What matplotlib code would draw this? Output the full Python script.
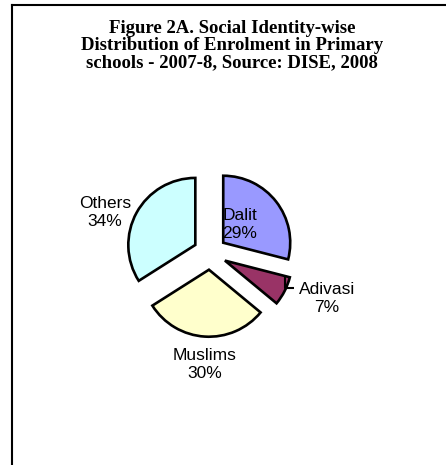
import matplotlib.pyplot as plt
from matplotlib.lines import Line2D

categories = ["Dalit", "Adivasi", "Muslims", "Others"]
shares = [29, 7, 30, 34]
colors = ["#9999FF", "#993366", "#FFFFCC", "#CCFFFF"]
title_lines = ["Figure 2A. Social Identity-wise",
               "Distribution of Enrolment in Primary",
               "schools - 2007-8, Source: DISE, 2008"]

W, H = 446, 465
fig = plt.figure(figsize=(W / 100, H / 100), dpi=100)
ax = fig.add_axes([0, 0, 1, 1])

# pie of radius 1, 1 unit = 67 px, centre at pixel (210, 253)
px = 67.0
cx, cy = 210, 253
ax.pie(shares, colors=colors, startangle=90, counterclock=False,
       explode=[0.25] * 4, radius=1, frame=True,
       wedgeprops=dict(edgecolor="black", linewidth=1.9))
ax.set_xlim(-cx / px, (W - cx) / px)
ax.set_ylim(-(H - cy) / px, cy / px)
ax.set_aspect("auto")
ax.axis("off")

def to_data(x, y):
    return (x - cx) / px, (cy - y) / px

label_pos = {"Dalit": (240, 224), "Adivasi": (327, 299),
             "Muslims": (205, 364), "Others": (105, 212)}
for name, val in zip(categories, shares):
    x, y = to_data(*label_pos[name])
    ax.text(x, y, f"{name}\n{val}%", ha="center", va="center",
            fontsize=12.5, family="Liberation Sans", linespacing=1.25,
            color="black")

# leader line for Adivasi
lx = [to_data(285, 275)[0], to_data(285, 288)[0], to_data(294, 288)[0]]
ly = [to_data(285, 275)[1], to_data(285, 288)[1], to_data(294, 288)[1]]
ax.plot(lx, ly, color="black", lw=1.5, solid_capstyle="butt")

for i, line in enumerate(title_lines):
    fig.text(232 / W, 1 - (28.5 + 17 * i) / H, line, ha="center", va="center",
             fontsize=13.5, family="Liberation Serif", weight="bold")

# frame (left and top edges)
fig.add_artist(Line2D([12 / W, 12 / W], [0, 1 - 5 / H], color="black", lw=1.5,
                      transform=fig.transFigure))
fig.add_artist(Line2D([12 / W, 1], [1 - 5 / H, 1 - 5 / H], color="black", lw=1.5,
                      transform=fig.transFigure))

fig.savefig("out.png", dpi=100)
